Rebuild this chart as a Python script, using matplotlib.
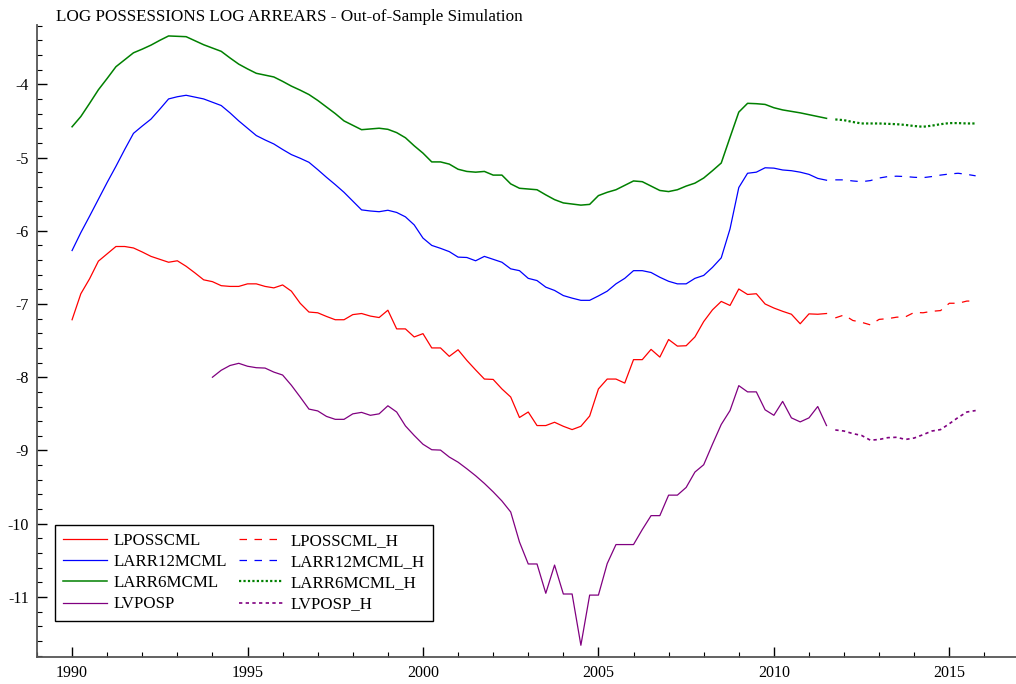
import numpy as np
import matplotlib.pyplot as plt
from matplotlib.ticker import MultipleLocator

plt.rcParams['font.family'] = ['Liberation Serif', 'DejaVu Serif']
plt.rcParams['axes.unicode_minus'] = False

# quarterly history, 1990Q1 .. 2011Q3
hist_start = 1990.0
lposscml = [-7.215, -6.86, -6.655, -6.415, -6.315, -6.215, -6.215, -6.235, -6.29, -6.35,
            -6.39, -6.43, -6.41, -6.485, -6.575, -6.67, -6.695, -6.75, -6.76, -6.76,
            -6.725, -6.725, -6.76, -6.78, -6.74, -6.825, -6.99, -7.11, -7.12, -7.17,
            -7.215, -7.215, -7.145, -7.13, -7.165, -7.185, -7.085, -7.34, -7.34, -7.45,
            -7.405, -7.60, -7.60, -7.715, -7.625, -7.77, -7.90, -8.025, -8.03, -8.16,
            -8.27, -8.55, -8.475, -8.66, -8.66, -8.615, -8.67, -8.715, -8.67, -8.53,
            -8.16, -8.025, -8.025, -8.08, -7.76, -7.76, -7.62, -7.725, -7.485, -7.575,
            -7.57, -7.45, -7.24, -7.08, -6.965, -7.02, -6.795, -6.87, -6.86, -7.0,
            -7.055, -7.10, -7.14, -7.27, -7.135, -7.14, -7.13]
larr12mcml = [-6.27, -6.025, -5.80, -5.57, -5.34, -5.12, -4.89, -4.67, -4.57, -4.475,
              -4.34, -4.20, -4.17, -4.15, -4.175, -4.20, -4.245, -4.29, -4.39, -4.50,
              -4.60, -4.70, -4.76, -4.815, -4.89, -4.96, -5.01, -5.065, -5.165, -5.27,
              -5.37, -5.475, -5.595, -5.715, -5.73, -5.74, -5.72, -5.75, -5.81, -5.92,
              -6.10, -6.20, -6.24, -6.285, -6.36, -6.365, -6.41, -6.35, -6.39, -6.43,
              -6.52, -6.545, -6.65, -6.68, -6.77, -6.815, -6.885, -6.92, -6.95, -6.95,
              -6.89, -6.825, -6.725, -6.65, -6.545, -6.545, -6.57, -6.635, -6.69, -6.725,
              -6.725, -6.65, -6.61, -6.50, -6.37, -5.975, -5.41, -5.215, -5.20, -5.14,
              -5.145, -5.17, -5.18, -5.20, -5.23, -5.285, -5.31]
larr6mcml = [-4.58, -4.44, -4.26, -4.075, -3.92, -3.76, -3.665, -3.57, -3.52, -3.465,
             -3.40, -3.34, -3.345, -3.35, -3.405, -3.46, -3.505, -3.55, -3.64, -3.725,
             -3.79, -3.85, -3.875, -3.90, -3.96, -4.025, -4.08, -4.14, -4.22, -4.31,
             -4.40, -4.50, -4.56, -4.62, -4.61, -4.60, -4.615, -4.66, -4.73, -4.84,
             -4.94, -5.06, -5.06, -5.09, -5.16, -5.19, -5.20, -5.19, -5.24, -5.24,
             -5.36, -5.42, -5.43, -5.44, -5.51, -5.575, -5.62, -5.635, -5.65, -5.64,
             -5.52, -5.475, -5.44, -5.38, -5.32, -5.33, -5.39, -5.45, -5.465, -5.44,
             -5.39, -5.35, -5.28, -5.18, -5.075, -4.725, -4.38, -4.26, -4.265, -4.275,
             -4.32, -4.35, -4.37, -4.39, -4.415, -4.44, -4.465]
# LVPOSP starts 1994Q1
lvposp_start = 1994.0
lvposp = [-8.00, -7.905, -7.84, -7.81, -7.85, -7.87, -7.875, -7.93, -7.97, -8.11,
          -8.27, -8.435, -8.46, -8.535, -8.575, -8.575, -8.50, -8.48, -8.52, -8.50,
          -8.39, -8.475, -8.665, -8.795, -8.915, -8.99, -8.995, -9.09, -9.16, -9.25,
          -9.345, -9.45, -9.565, -9.69, -9.84, -10.25, -10.55, -10.55, -10.95, -10.565,
          -10.96, -10.96, -11.66, -10.975, -10.975, -10.545, -10.285, -10.285, -10.285, -10.08,
          -9.89, -9.89, -9.61, -9.61, -9.505, -9.295, -9.195, -8.915, -8.645, -8.455,
          -8.115, -8.20, -8.20, -8.445, -8.52, -8.33, -8.555, -8.61, -8.555, -8.40,
          -8.66]

# out-of-sample simulation, 2011Q4 .. 2015Q4
fc_start = 2011.75
lposscml_h = [-7.19, -7.15, -7.225, -7.25, -7.285, -7.21, -7.20, -7.18, -7.175, -7.115,
              -7.12, -7.10, -7.09, -6.99, -6.99, -6.96, -6.96]
larr12mcml_h = [-5.305, -5.305, -5.32, -5.33, -5.315, -5.28, -5.26, -5.255, -5.26, -5.27,
                -5.275, -5.26, -5.24, -5.225, -5.215, -5.23, -5.25]
larr6mcml_h = [-4.48, -4.49, -4.515, -4.535, -4.535, -4.535, -4.54, -4.545, -4.555, -4.57,
               -4.58, -4.565, -4.545, -4.53, -4.53, -4.535, -4.535]
lvposp_h = [-8.72, -8.735, -8.77, -8.795, -8.86, -8.85, -8.825, -8.82, -8.85, -8.83,
            -8.785, -8.735, -8.715, -8.635, -8.55, -8.475, -8.455]


def qdates(start, vals):
    return start + np.arange(len(vals)) / 4.0


fig = plt.figure(figsize=(10.16, 6.84), dpi=100)
ax = fig.add_axes([0.0364, 0.0395, 0.9636, 0.924])

ax.plot(qdates(hist_start, lposscml), lposscml, color='#ff0000', lw=0.9, label='LPOSSCML')
ax.plot(qdates(fc_start, lposscml_h), lposscml_h, color='#ff0000', lw=0.9, ls=(0, (6, 6)), label='LPOSSCML_H')
ax.plot(qdates(hist_start, larr12mcml), larr12mcml, color='#0000ff', lw=0.9, label='LARR12MCML')
ax.plot(qdates(fc_start, larr12mcml_h), larr12mcml_h, color='#0000ff', lw=0.9, ls=(0, (6, 6)), label='LARR12MCML_H')
ax.plot(qdates(hist_start, larr6mcml), larr6mcml, color='#008000', lw=1.1, label='LARR6MCML')
ax.plot(qdates(fc_start, larr6mcml_h), larr6mcml_h, color='#008000', lw=1.6, ls=(0, (1, 1)), label='LARR6MCML_H')
ax.plot(qdates(lvposp_start, lvposp), lvposp, color='#800080', lw=0.9, label='LVPOSP')
ax.plot(qdates(fc_start, lvposp_h), lvposp_h, color='#800080', lw=1.2, ls=(0, (2, 2)), label='LVPOSP_H')

ax.set_xlim(1989.0, 2016.9)
ax.set_ylim(-11.82, -3.19)
ax.xaxis.set_major_locator(MultipleLocator(5))
ax.xaxis.set_minor_locator(MultipleLocator(1))
ax.yaxis.set_major_locator(MultipleLocator(1))
ax.yaxis.set_minor_locator(MultipleLocator(0.2))
ax.tick_params(which='both', direction='in', labelsize=11.5, colors='black')
ax.tick_params(which='major', length=7, width=1.0)
ax.tick_params(which='minor', length=3.5, width=0.8)
ax.tick_params(axis='x', pad=6)
ax.tick_params(axis='y', pad=6)
for s in ('top', 'right'):
    ax.spines[s].set_visible(False)
for s in ('left', 'bottom'):
    ax.spines[s].set_color('#555555')
    ax.spines[s].set_linewidth(1.3)

# legend: history in first column, simulations in second
h, l = ax.get_legend_handles_labels()
order = [0, 2, 4, 6, 1, 3, 5, 7]
leg = ax.legend([h[k] for k in order], [l[k] for k in order], ncol=2,
                loc='lower left', bbox_to_anchor=(0.018, 0.057), fontsize=12.2,
                frameon=True, fancybox=False, edgecolor='black', framealpha=1,
                handlelength=2.6, handletextpad=0.4, columnspacing=0.7,
                labelspacing=0.3, borderpad=0.5, borderaxespad=0)
leg.get_frame().set_linewidth(1.0)

fig.text(0.055, 0.975, 'LOG POSSESSIONS LOG ARREARS - Out-of-Sample Simulation',
         fontsize=12.3, ha='left', va='center')

fig.savefig('out.png', dpi=100)
